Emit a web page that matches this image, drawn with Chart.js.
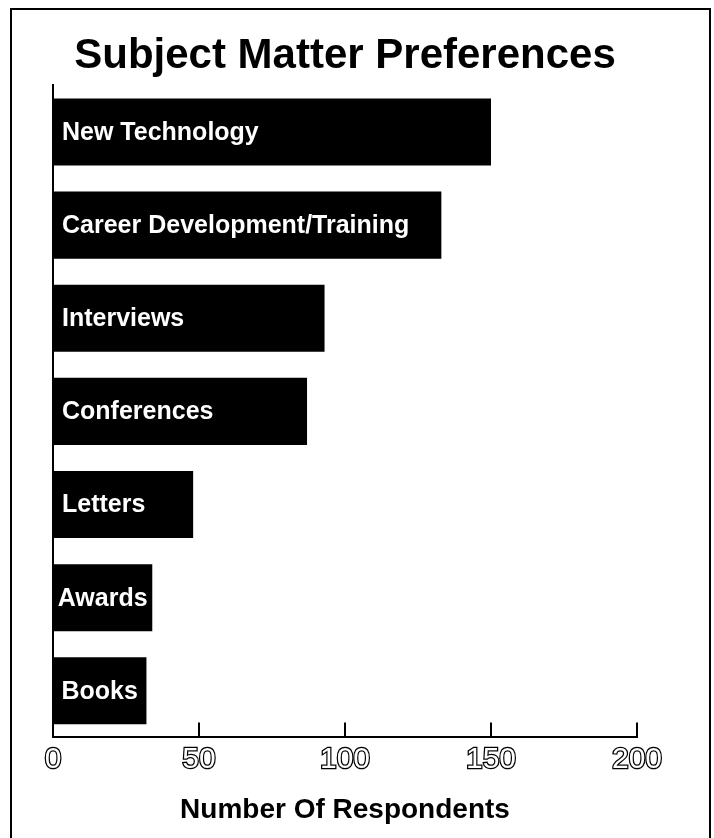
<!DOCTYPE html>
<html lang="en">

<head>
    <meta charset="UTF-8">
    <title>Subject Matter Preferences</title>
    <script src="https://cdn.jsdelivr.net/npm/chart.js"></script>
    <style>
        html, body {
            margin: 0;
            padding: 0;
            background: #fff;
        }
        #frame {
            position: absolute;
            left: 10px;
            top: 8px;
            width: 697px;
            height: 860px;
            border: 2px solid #000;
        }
        #wrap {
            position: relative;
            width: 714px;
            height: 838px;
            overflow: hidden;
        }
        canvas {
            position: absolute;
            left: 0;
            top: 0;
        }
    </style>
</head>

<body>
    <div id="wrap">
        <div id="frame"></div>
        <canvas id="barChart" width="714" height="838"></canvas>
    </div>

    <script>
        const categories = ["New Technology", "Career Development/Training", "Interviews",
            "Conferences", "Letters", "Awards", "Books"];
        const respondents = [150, 133, 93, 87, 48, 34, 32];
        const xTicks = [0, 50, 100, 150, 200];

        const fontFamily = "'Liberation Sans', Arial, Helvetica, sans-serif";

        // white labels written inside each bar
        const barLabels = {
            id: "barLabels",
            afterDatasetsDraw(chart) {
                const ctx = chart.ctx;
                const meta = chart.getDatasetMeta(0);
                ctx.save();
                ctx.fillStyle = "#fff";
                ctx.font = "bold 25px " + fontFamily;
                ctx.textAlign = "left";
                ctx.textBaseline = "middle";
                meta.data.forEach((bar, i) => {
                    // keep short labels inside their bar
                    const w = ctx.measureText(chart.data.labels[i]).width;
                    const pad = Math.min(9, (bar.x - bar.base - w) / 2);
                    ctx.fillText(chart.data.labels[i], bar.base + pad, bar.y + 1);
                });
                ctx.restore();
            }
        };

        // tick marks point up into the plot
        const upTicks = {
            id: "upTicks",
            afterDraw(chart) {
                const scale = chart.scales.x;
                const ctx = chart.ctx;
                ctx.save();
                ctx.strokeStyle = "#000";
                ctx.lineWidth = 2;
                xTicks.forEach(v => {
                    if (v === 0) return;
                    const px = Math.round(scale.getPixelForValue(v));
                    ctx.beginPath();
                    ctx.moveTo(px, scale.top);
                    ctx.lineTo(px, scale.top - 15);
                    ctx.stroke();
                });
                ctx.restore();
            }
        };

        new Chart(document.getElementById("barChart").getContext("2d"), {
            type: "bar",
            data: {
                labels: categories,
                datasets: [{
                    label: "Respondents",
                    data: respondents,
                    backgroundColor: "#000",
                    borderWidth: 0,
                    categoryPercentage: 1,
                    barPercentage: 0.72
                }]
            },
            options: {
                indexAxis: "y",
                responsive: false,
                animation: false,
                layout: {
                    padding: { left: 53, right: 77, top: 0, bottom: 7 }
                },
                plugins: {
                    legend: { display: false },
                    tooltip: { enabled: false },
                    title: {
                        display: true,
                        text: "Subject Matter Preferences",
                        color: "#000",
                        font: { family: fontFamily, size: 42, weight: "bold" },
                        padding: { top: 31, bottom: 4 }
                    }
                },
                scales: {
                    x: {
                        min: 0,
                        max: 200,
                        afterBuildTicks: axis => {
                            axis.ticks = xTicks.map(v => ({ value: v }));
                        },
                        grid: { display: false, drawTicks: false },
                        border: { display: true, color: "#000", width: 2 },
                        ticks: {
                            color: "#fff",
                            textStrokeColor: "#000",
                            textStrokeWidth: 2.5,
                            padding: 4,
                            maxRotation: 0,
                            font: { family: fontFamily, size: 30 }
                        },
                        title: {
                            display: true,
                            text: "Number Of Respondents",
                            color: "#000",
                            font: { family: fontFamily, size: 28, weight: "bold" },
                            padding: { top: 12, bottom: 4 }
                        }
                    },
                    y: {
                        grid: { display: false, drawTicks: false },
                        border: { display: true, color: "#000", width: 2 },
                        ticks: { display: false }
                    }
                }
            },
            plugins: [barLabels, upTicks]
        });
    </script>
</body>

</html>
